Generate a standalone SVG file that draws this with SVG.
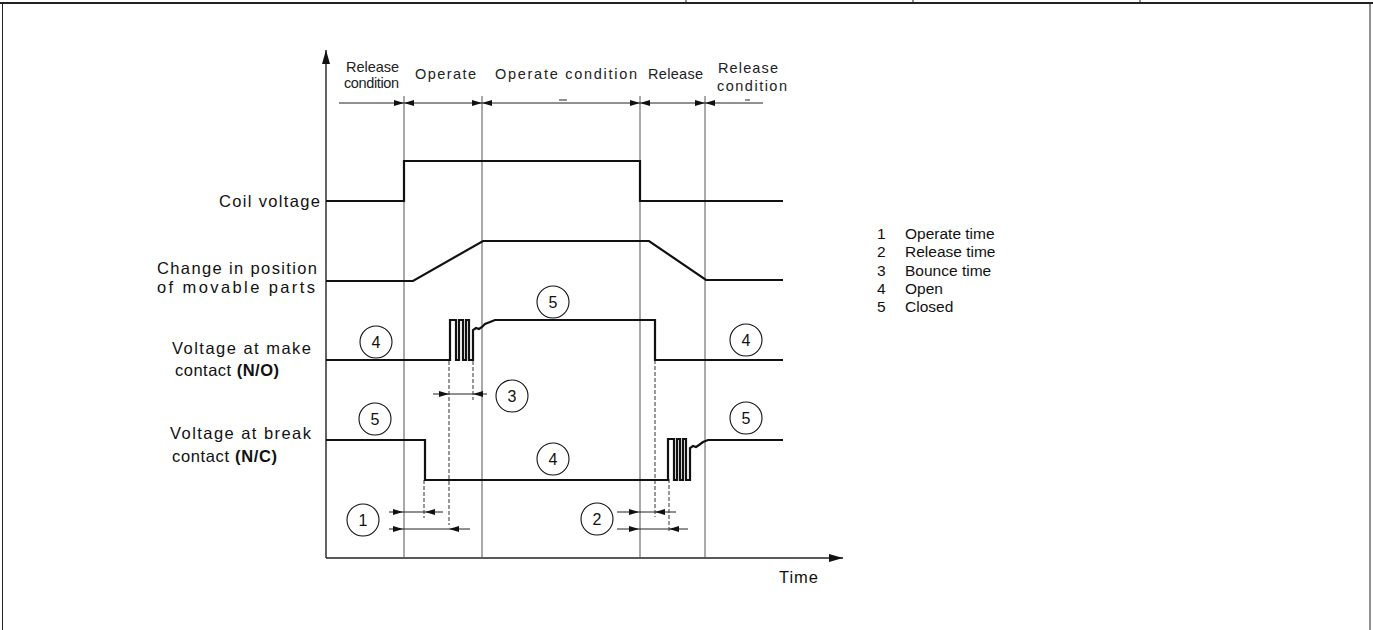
<svg xmlns="http://www.w3.org/2000/svg" width="1373" height="630" viewBox="0 0 1373 630">
<style>
.frame{stroke:#222;fill:none}
.grid{stroke:#555;stroke-width:1;fill:none}
.axis{stroke:#222;stroke-width:1.4;fill:none}
.wave{stroke:#111;stroke-width:2.2;fill:none;stroke-linejoin:miter}
.dash{stroke:#333;stroke-width:1;stroke-dasharray:4 2;fill:none}
.dim{stroke:#222;stroke-width:1;fill:none}
.hd{font-family:"Liberation Sans",Arial,sans-serif;font-size:14.5px;fill:#222}
.lb{font-family:"Liberation Sans",Arial,sans-serif;font-size:16.5px;fill:#111}
.num{font-family:"Liberation Sans",Arial,sans-serif;font-size:16px;fill:#111;text-anchor:middle}
.lg{font-family:"Liberation Sans",Arial,sans-serif;font-size:15.5px;fill:#111}
.circ{stroke:#111;stroke-width:1.1;fill:none}
</style>
<defs>
<marker id="ah" viewBox="0 0 10 6" refX="10" refY="3" markerWidth="10" markerHeight="6" markerUnits="userSpaceOnUse" orient="auto-start-reverse">
<path d="M0,0 L10,3 L0,6 Z" fill="#111"/>
</marker>
<marker id="ax" viewBox="0 0 14 8" refX="14" refY="4" markerWidth="14" markerHeight="8" markerUnits="userSpaceOnUse" orient="auto">
<path d="M0,0 L14,4 L0,8 Z" fill="#111"/>
</marker>
</defs>

<g id="frame">
<line class="frame" x1="0" y1="3" x2="1373" y2="3" stroke-width="2"/>
<line class="frame" x1="2.5" y1="3" x2="2.5" y2="630" stroke-width="1"/>
<line class="frame" x1="1370" y1="3" x2="1370" y2="630" stroke-width="1"/>
<line class="frame" x1="686" y1="0" x2="686" y2="3" stroke-width="1"/>
<line class="frame" x1="913" y1="0" x2="913" y2="3" stroke-width="1"/>
<line class="frame" x1="1140" y1="0" x2="1140" y2="3" stroke-width="1"/>
</g>

<g id="axes">
<line class="axis" x1="326" y1="558" x2="326" y2="50" marker-end="url(#ax)"/>
<line class="axis" x1="326" y1="558" x2="843" y2="558" marker-end="url(#ax)"/>
<text class="lb" x="779" y="583" textLength="39">Time</text>
</g>

<g id="grid">
<line class="grid" x1="404" y1="96" x2="404" y2="558"/>
<line class="grid" x1="482" y1="96" x2="482" y2="558"/>
<line class="grid" x1="640" y1="96" x2="640" y2="558"/>
<line class="grid" x1="705" y1="96" x2="705" y2="558"/>
</g>

<g id="header">
<text class="hd" x="346" y="72" textLength="53">Release</text>
<text class="hd" x="344" y="88" textLength="55">condition</text>
<text class="hd" x="415" y="79" textLength="61">Operate</text>
<text class="hd" x="495" y="79" textLength="142">Operate condition</text>
<text class="hd" x="648" y="79" textLength="55">Release</text>
<text class="hd" x="718" y="73" textLength="60">Release</text>
<text class="hd" x="717" y="91" textLength="70">condition</text>
</g>

<g id="connectors">
<line class="dim" x1="339" y1="103" x2="404" y2="103" marker-end="url(#ah)"/>
<line class="dim" x1="404" y1="103" x2="482" y2="103" marker-start="url(#ah)" marker-end="url(#ah)"/>
<line class="dim" x1="482" y1="103" x2="640" y2="103" marker-start="url(#ah)" marker-end="url(#ah)"/>
<line class="dim" x1="640" y1="103" x2="705" y2="103" marker-start="url(#ah)" marker-end="url(#ah)"/>
<line class="dim" x1="705" y1="103" x2="763" y2="103" marker-start="url(#ah)"/>
<line class="dim" x1="559" y1="100" x2="567" y2="100"/>
<line class="dim" x1="745" y1="100" x2="750" y2="100"/>
<line class="dim" x1="433" y1="394" x2="449" y2="394" marker-end="url(#ah)"/>
<line class="dim" x1="487" y1="394" x2="473" y2="394" marker-end="url(#ah)"/>
<line class="dim" x1="449" y1="394" x2="473" y2="394"/>
<line class="dim" x1="389" y1="512" x2="403" y2="512" marker-end="url(#ah)"/>
<line class="dim" x1="403" y1="512" x2="425" y2="512"/>
<line class="dim" x1="443" y1="512" x2="425" y2="512" marker-end="url(#ah)"/>
<line class="dim" x1="389" y1="529" x2="403" y2="529" marker-end="url(#ah)"/>
<line class="dim" x1="403" y1="529" x2="449" y2="529"/>
<line class="dim" x1="470" y1="529" x2="449" y2="529" marker-end="url(#ah)"/>
<line class="dim" x1="617" y1="512" x2="639" y2="512" marker-end="url(#ah)"/>
<line class="dim" x1="639" y1="512" x2="655" y2="512"/>
<line class="dim" x1="676" y1="512" x2="655" y2="512" marker-end="url(#ah)"/>
<line class="dim" x1="617" y1="529" x2="639" y2="529" marker-end="url(#ah)"/>
<line class="dim" x1="639" y1="529" x2="669" y2="529"/>
<line class="dim" x1="688" y1="529" x2="669" y2="529" marker-end="url(#ah)"/>
<line class="dash" x1="449" y1="361" x2="449" y2="525"/>
<line class="dash" x1="473" y1="361" x2="473" y2="400"/>
<line class="dash" x1="424" y1="480" x2="424" y2="518"/>
<line class="dash" x1="655" y1="360" x2="655" y2="517"/>
<line class="dash" x1="669" y1="479" x2="669" y2="532"/>
</g>

<g id="coil">
<text class="lb" x="219" y="207" textLength="101">Coil voltage</text>
<path class="wave" d="M326,201 H404 V161 H640 V201 H783"/>
</g>

<g id="position">
<text class="lb" x="157" y="274" textLength="160">Change in position</text>
<text class="lb" x="157" y="293" textLength="158">of movable parts</text>
<path class="wave" d="M326,281 H413 L483,241 H649 L706,280 H783"/>
</g>

<g id="make">
<text class="lb" x="172" y="354" textLength="139">Voltage at make</text>
<text class="lb" x="175" y="376" textLength="104">contact <tspan font-weight="bold">(N/O)</tspan></text>
<path class="wave" d="M326,360 H450 V320 H456 V360 H459 V320 H463 V360 H466 V320 H469 V360 H473 V330 L476,328 L479,329 L482,327 L485,324 L490,322 L495,320 H655 V360 H783"/>
<circle class="circ" cx="376" cy="342" r="16"/><text class="num" x="376" y="348">4</text>
<circle class="circ" cx="553" cy="302" r="16"/><text class="num" x="553" y="308">5</text>
<circle class="circ" cx="746" cy="340" r="16"/><text class="num" x="746" y="346">4</text>
<circle class="circ" cx="512" cy="396" r="16"/><text class="num" x="512" y="402">3</text>
</g>

<g id="break">
<text class="lb" x="170" y="439" textLength="141">Voltage at break</text>
<text class="lb" x="172" y="462" textLength="105">contact <tspan font-weight="bold">(N/C)</tspan></text>
<path class="wave" d="M326,440 H425 V480 H668 V439 H674 V480 H677 V439 H680 V480 H683 V439 H686 V480 H690 V448 L693,446 L696,447 L699,445 L703,442 L708,440 H783"/>
<circle class="circ" cx="375" cy="419" r="16"/><text class="num" x="375" y="425">5</text>
<circle class="circ" cx="553" cy="459" r="16"/><text class="num" x="553" y="465">4</text>
<circle class="circ" cx="746" cy="418" r="16"/><text class="num" x="746" y="424">5</text>
<circle class="circ" cx="363" cy="520" r="16"/><text class="num" x="363" y="526">1</text>
<circle class="circ" cx="597" cy="519" r="16"/><text class="num" x="597" y="525">2</text>
</g>

<g id="legend">
<text class="lg" x="877" y="239">1</text><text class="lg" x="905" y="239">Operate time</text>
<text class="lg" x="877" y="257">2</text><text class="lg" x="905" y="257">Release time</text>
<text class="lg" x="877" y="276">3</text><text class="lg" x="905" y="276">Bounce time</text>
<text class="lg" x="877" y="294">4</text><text class="lg" x="905" y="294">Open</text>
<text class="lg" x="877" y="312">5</text><text class="lg" x="905" y="312">Closed</text>
</g>
</svg>
